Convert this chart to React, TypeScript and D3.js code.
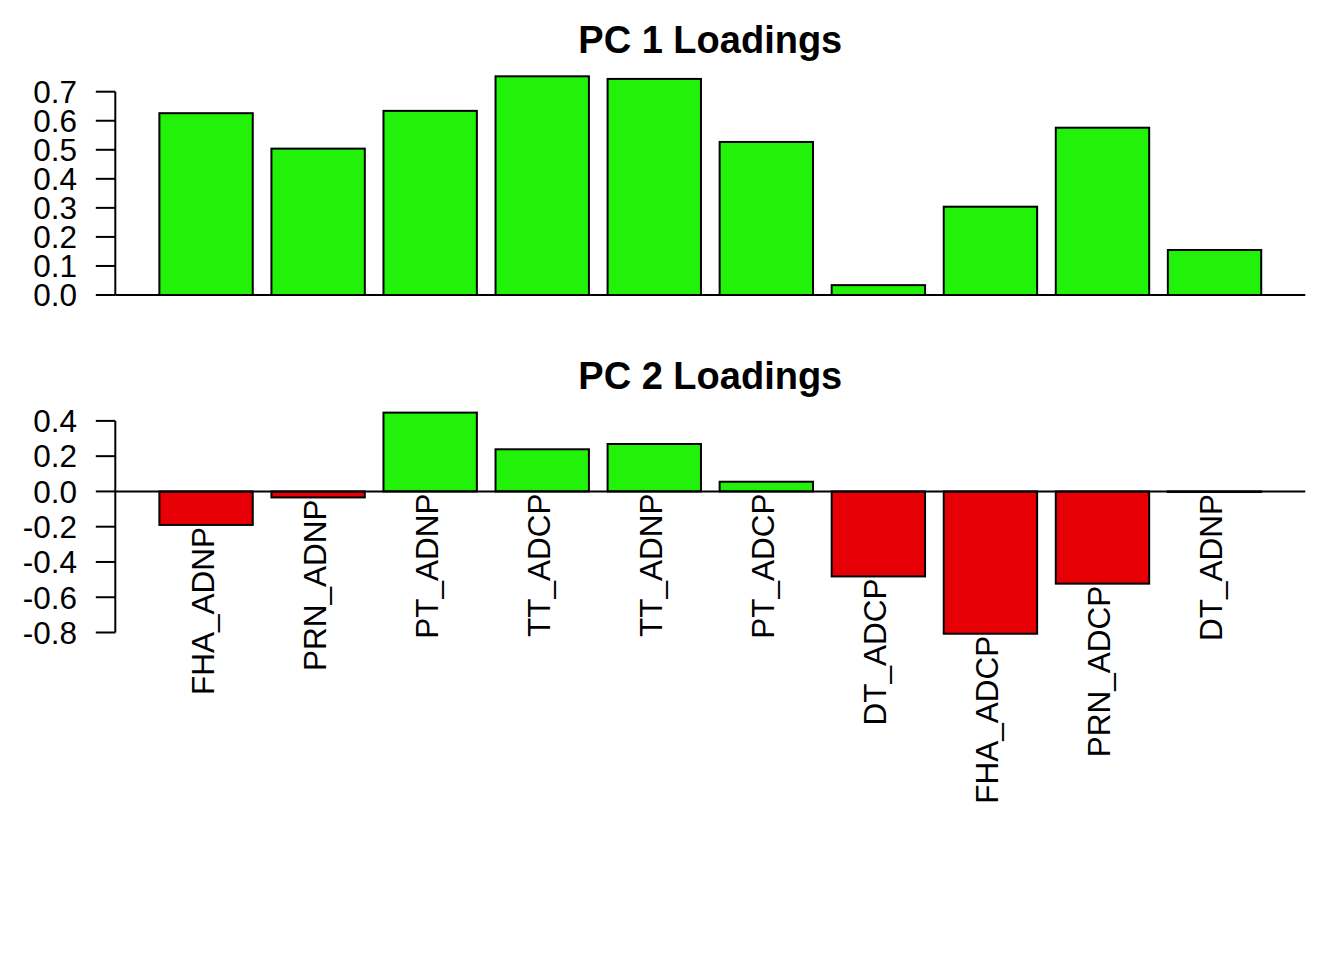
import React from "react";
import * as d3 from "d3";

const categories = [
  "FHA_ADNP", "PRN_ADNP", "PT_ADNP", "TT_ADCP", "TT_ADNP",
  "PT_ADCP", "DT_ADCP", "FHA_ADCP", "PRN_ADCP", "DT_ADNP",
];
const pc1Values = [0.626, 0.504, 0.634, 0.753, 0.744, 0.527, 0.034, 0.304, 0.576, 0.155];
const pc2Values = [-0.19, -0.034, 0.447, 0.239, 0.269, 0.055, -0.482, -0.807, -0.523, -0.003];
const pc1Ticks = [0, 0.1, 0.2, 0.3, 0.4, 0.5, 0.6, 0.7];
const pc2Ticks = [-0.8, -0.6, -0.4, -0.2, 0, 0.2, 0.4];
const titles = ["PC 1 Loadings", "PC 2 Loadings"];

const W = 1344;
const H = 960;
const GREEN = "#22F20A";
const RED = "#E60005";
const FONT = "'Liberation Sans', Arial, Helvetica, sans-serif";
const FS = 31.5;

// bar positions in R barplot units (width 1, space 0.2)
const x = d3.scaleLinear().domain([-0.272, 12.472]).range([115.3, 1305.3]);

const fmt = (v: number) => (Math.abs(v) < 1e-9 ? "0.0" : v.toFixed(1));

type PanelProps = {
  values: number[];
  ticks: number[];
  y: d3.ScaleLinear<number, number>;
  title: string;
  titleY: number;
  showLabels: boolean;
};

function Panel({ values, ticks, y, title, titleY, showLabels }: PanelProps) {
  const [x0, x1] = x.range();
  const tMin = d3.min(ticks)!;
  const tMax = d3.max(ticks)!;
  return (
    <g>
      <text
        x={(x0 + x1) / 2}
        y={titleY}
        textAnchor="middle"
        fontFamily={FONT}
        fontWeight="bold"
        fontSize={38}
        fill="#000"
      >
        {title}
      </text>
      {values.map((v, i) => {
        const left = x(0.2 + 1.2 * i);
        const right = x(1.2 + 1.2 * i);
        const top = y(Math.max(0, v));
        const bot = y(Math.min(0, v));
        return (
          <rect
            key={categories[i]}
            x={left}
            y={top}
            width={right - left}
            height={Math.max(bot - top, 0.5)}
            fill={v >= 0 ? GREEN : RED}
            stroke="#000"
            strokeWidth={2}
          />
        );
      })}
      <line x1={x0} x2={x1} y1={y(0)} y2={y(0)} stroke="#000" strokeWidth={2} />
      <line x1={x0} x2={x0} y1={y(tMin)} y2={y(tMax)} stroke="#000" strokeWidth={2} />
      {ticks.map((t) => (
        <g key={t}>
          <line x1={x0 - 19.5} x2={x0} y1={y(t)} y2={y(t)} stroke="#000" strokeWidth={2} />
          <text
            x={77}
            y={y(t) + 11.3}
            textAnchor="end"
            fontFamily={FONT}
            fontSize={FS}
            fill="#000"
          >
            {fmt(t)}
          </text>
        </g>
      ))}
      {showLabels &&
        values.map((v, i) => {
          const cx = x(0.7 + 1.2 * i) + 7.5;
          const cy = y(Math.min(0, v)) + 2;
          return (
            <text
              key={"l" + categories[i]}
              transform={`translate(${cx},${cy}) rotate(-90)`}
              textAnchor="end"
              fontFamily={FONT}
              fontSize={FS}
              fill="#000"
            >
              {categories[i]}
            </text>
          );
        })}
    </g>
  );
}

export default function App() {
  const y1 = d3.scaleLinear().domain([0, 0.7]).range([295, 91.7]);
  const y2 = d3.scaleLinear().domain([-0.8, 0.4]).range([632.5, 420.9]);
  return (
    <svg
      width={W}
      height={H}
      viewBox={`0 0 ${W} ${H}`}
      style={{ position: "absolute", left: 0, top: 0, background: "#fff" }}
    >
      <rect x={0} y={0} width={W} height={H} fill="#fff" />
      <Panel values={pc1Values} ticks={pc1Ticks} y={y1} title={titles[0]} titleY={53.3} showLabels={false} />
      <Panel values={pc2Values} ticks={pc2Ticks} y={y2} title={titles[1]} titleY={389.3} showLabels={true} />
    </svg>
  );
}
